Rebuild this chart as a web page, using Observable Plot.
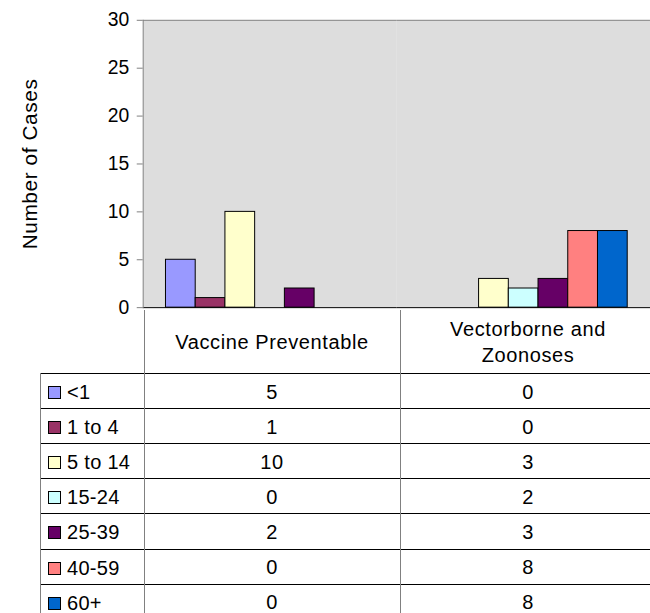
<!DOCTYPE html>
<html>
<head>
<meta charset="utf-8">
<script src="https://cdn.jsdelivr.net/npm/d3@7"></script>
<script src="https://cdn.jsdelivr.net/npm/@observablehq/plot@0.6"></script>
<style>
  html, body { margin: 0; padding: 0; background: #fff; overflow: hidden; }
  #wrap { position: relative; width: 650px; height: 613px; overflow: hidden; font-family: "Liberation Sans", Arial, sans-serif; }
  #chart { position: absolute; left: 0; top: 0; }
  #chart g[aria-label="y-axis tick label"] text { font-size: 19.5px; }
  #chart g[aria-label="y-axis label"] text { font-size: 21px; letter-spacing: 0.6px; }
  .cell { position: absolute; box-sizing: border-box; display: flex; align-items: center; justify-content: center; text-align: center; font-size: 20px; letter-spacing: 0.6px; color: #000; }
  .hline { position: absolute; height: 0; border-top: 1px solid #000; }
  .vline { position: absolute; width: 0; border-left: 1px solid #808080; }
  .sw { display: inline-block; width: 11px; height: 11px; border: 1px solid #000; margin-right: 6px; }
</style>
</head>
<body>
<div id="wrap"><div id="chart"></div></div>
<script>
// ---- data ----
const categories = ["Vaccine Preventable", "Vectorborne and Zoonoses"];
const ageGroups = ["<1", "1 to 4", "5 to 14", "15-24", "25-39", "40-59", "60+"];
const vaccinePreventable = [5, 1, 10, 0, 2, 0, 0];
const vectorborneZoonoses = [0, 0, 3, 2, 3, 8, 8];
const yTicks = [0, 5, 10, 15, 20, 25, 30];
const yLabel = "Number of Cases";
const ageColors = ["#9999FF", "#993366", "#FFFFCC", "#CCFFFF", "#660066", "#FF8080", "#0066CC"];

const series = [vaccinePreventable, vectorborneZoonoses];
const rows = [];
categories.forEach((c, ci) => ageGroups.forEach((a, ai) => rows.push({category: c, age: a, value: series[ci][ai]})));

const plot = Plot.plot({
  width: 656,
  height: 312,
  marginLeft: 144,
  marginRight: 0,
  marginTop: 20,
  marginBottom: 2,
  style: {fontFamily: "'Liberation Sans', Arial, sans-serif", fontSize: "20px", background: "transparent", overflow: "visible", color: "#000"},
  fx: {domain: categories, padding: 0, axis: null, label: null},
  x: {domain: ageGroups, paddingInner: 0, paddingOuter: 0.69, axis: null},
  y: {domain: [0, 30], label: null},
  color: {domain: ageGroups, range: ageColors},
  marks: [
    Plot.frame({fill: "#dddddd"}),
    Plot.ruleY([30], {stroke: "#808080"}),
    Plot.barY(rows.filter(d => d.value > 0), {fx: "category", x: "age", y: "value", fill: "age", stroke: "#000", strokeWidth: 1}),
    Plot.ruleY([0], {stroke: "#000"}),
    Plot.frame({anchor: "left", stroke: "#808080", facetAnchor: "left"}),
    Plot.axisY({ticks: yTicks, tickSize: 6, tickPadding: 8, stroke: "#808080", strokeOpacity: 1, label: yLabel, labelAnchor: "center", labelArrow: "none", labelOffset: 122})
  ]
});
document.getElementById("chart").appendChild(plot);

// ---- data table (legend + values) ----
const wrap = d3.select("#wrap");
const top0 = 310, headH = 63, rowH = 35.1;
const colX = [40, 144, 400], colW = [104, 256, 256];
categories.forEach((c, ci) => {
  wrap.append("div").attr("class", "cell")
    .style("left", colX[ci + 1] + "px").style("top", top0 + "px")
    .style("width", colW[ci + 1] + "px").style("height", headH + "px")
    .style("padding", "0 24px").style("line-height", "26px")
    .text(c);
});
ageGroups.forEach((a, ai) => {
  const y = top0 + headH + ai * rowH;
  wrap.append("div").attr("class", "hline").style("left", colX[0] + "px").style("top", y + "px").style("width", "620px");
  const lab = wrap.append("div").attr("class", "cell")
    .style("left", colX[0] + "px").style("top", y + "px").style("width", colW[0] + "px").style("height", rowH + "px")
    .style("justify-content", "flex-start").style("padding-left", "8px").style("padding-top", "4px")
    .style("white-space", "nowrap").style("letter-spacing", "0.3px");
  lab.append("span").attr("class", "sw").style("background", ageColors[ai]);
  lab.append("span").text(a);
  series.forEach((s, si) => {
    wrap.append("div").attr("class", "cell")
      .style("left", colX[si + 1] + "px").style("top", y + "px").style("width", colW[si + 1] + "px").style("height", rowH + "px")
      .style("padding-top", "3px")
      .text(s[ai]);
  });
});
[[40, top0 + headH], [144, top0], [400, top0]].forEach(([x, y]) => {
  wrap.append("div").attr("class", "vline").style("left", x + "px").style("top", y + "px").style("height", (613 - y) + "px");
});
</script>
</body>
</html>
